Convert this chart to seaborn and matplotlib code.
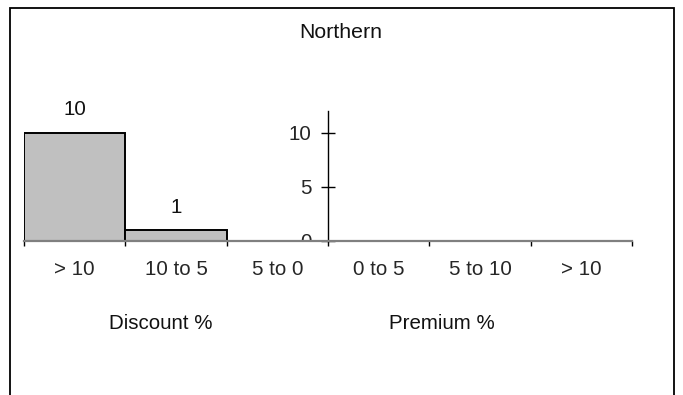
import matplotlib
matplotlib.use("Agg")
import matplotlib.pyplot as plt
import seaborn as sns
import pandas as pd
from matplotlib.patches import Rectangle

# Price bands (discount bands left of the axis, premium bands right of it)
bands = ["disc_gt10", "disc_10_5", "disc_5_0", "prem_0_5", "prem_5_10", "prem_gt10"]
band_labels = ["> 10", "10 to 5", "5 to 0", "0 to 5", "5 to 10", "> 10"]
counts = [10, 1, 0, 0, 0, 0]
group_labels = ["Discount %", "Premium %"]
chart_title = "Northern"
y_ticks = [0, 5, 10]

sns.set_theme(style="white")
plt.rcParams["font.family"] = ["Liberation Sans", "DejaVu Sans"]
plt.rcParams["text.color"] = "#111111"

W, H = 683, 395
fig = plt.figure(figsize=(W / 100, H / 100), dpi=100)
fig.patch.set_facecolor("white")

# plot area in pixel coordinates
x0, x1 = 24, 632
y_base, y_top = 241, 110.8
ax = fig.add_axes([x0 / W, 1 - y_base / H, (x1 - x0) / W, (y_base - y_top) / H])
ax.set_facecolor("none")

df = pd.DataFrame({"band": bands, "count": counts})
sns.barplot(data=df, x="band", y="count", order=bands, color="#C0C0C0",
            saturation=1, edgecolor="black", linewidth=1.4, width=1.0, ax=ax)

for p, v in zip(ax.patches, counts):
    if v == 0:
        p.set_linewidth(0)

ax.bar_label(ax.containers[0], labels=[str(v) if v else "" for v in counts],
             padding=9.4, fontsize=14.8, color="#111111")

ax.set_xlim(-0.5, len(bands) - 0.5)
ax.set_ylim(0, 12)
ax.set_xlabel("")
ax.set_ylabel("")

# spines: value axis sits between the discount and premium bands
for s in ["top", "right"]:
    ax.spines[s].set_visible(False)
ax.spines["left"].set_position(("data", 2.5))
ax.spines["left"].set_color("black")
ax.spines["left"].set_linewidth(1.0)
ax.spines["bottom"].set_color("#808080")
ax.spines["bottom"].set_linewidth(1.6)

ax.set_xticks(range(len(bands)))
ax.set_xticklabels(band_labels, fontsize=14.8)
ax.set_xticks([i - 0.5 for i in range(len(bands) + 1)], minor=True)
ax.tick_params(axis="x", which="major", length=0, pad=13.5)
ax.tick_params(axis="x", which="minor", length=3.8, width=1.0, color="black",
               direction="out", bottom=True)

ax.set_yticks(y_ticks)
ax.set_yticklabels([str(t) for t in y_ticks], fontsize=14.8)
ax.tick_params(axis="y", which="major", direction="inout", length=9.4, width=1.0,
               color="black", pad=7, left=True)
for lab in ax.get_yticklabels():
    lab.set_clip_box(ax.bbox)
    lab.set_clip_on(True)

# title and group captions
fig.text(341 / W, 1 - 38 / H, chart_title, ha="center", va="baseline", fontsize=15.3)
fig.text(161 / W, 1 - 329 / H, group_labels[0], ha="center", va="baseline", fontsize=14.8)
fig.text(442 / W, 1 - 329 / H, group_labels[1], ha="center", va="baseline", fontsize=14.8)

# chart frame (open at the bottom)
frame = Rectangle((9.5 / W, -0.1), (674 - 9.5) / W, 1.1 - 8.5 / H,
                  transform=fig.transFigure, fill=False, edgecolor="black",
                  linewidth=1.3)
fig.patches.append(frame)

fig.savefig("out.png", dpi=100, facecolor="white")
